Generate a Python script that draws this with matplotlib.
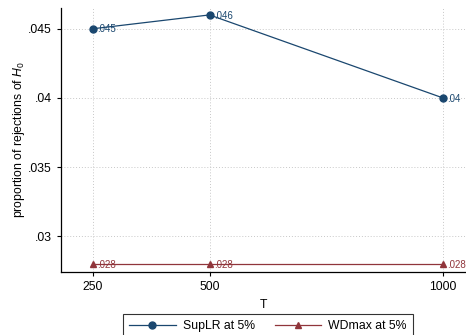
import matplotlib
matplotlib.use('Agg')
import matplotlib.pyplot as plt

T = [250, 500, 1000]
suplr = [0.045, 0.046, 0.04]
wdmax = [0.028, 0.028, 0.028]
suplr_labels = ['.045', '.046', '.04']
wdmax_labels = ['.028', '.028', '.028']
yticks = [0.03, 0.035, 0.04, 0.045]
ytick_labels = ['.03', '.035', '.04', '.045']

navy = '#1a476f'
maroon = '#90353b'

plt.rcParams['font.family'] = ['Liberation Sans', 'DejaVu Sans']
plt.rcParams['mathtext.fontset'] = 'custom'
plt.rcParams['mathtext.it'] = 'Liberation Sans:italic'
plt.rcParams['mathtext.rm'] = 'Liberation Sans'

fig = plt.figure(figsize=(4.66, 3.35), dpi=100)
ax = fig.add_axes([61 / 466, 1 - 272 / 335, (466 - 61) / 466, (272 - 8) / 335])

ax.plot(T, suplr, color=navy, lw=0.9, marker='o', ms=5, label='SupLR at 5%')
ax.plot(T, wdmax, color=maroon, lw=0.9, marker='^', ms=5, label='WDmax at 5%')
for x, y, s in zip(T, suplr, suplr_labels):
    ax.annotate(s, (x, y), xytext=(3, -0.5), textcoords='offset points',
                va='center', ha='left', fontsize=7, color=navy)
for x, y, s in zip(T, wdmax, wdmax_labels):
    ax.annotate(s, (x, y), xytext=(3, -0.5), textcoords='offset points',
                va='center', ha='left', fontsize=7, color=maroon)

ax.set_xlim(182, 1049)
ax.set_ylim(0.02743, 0.0465)
ax.set_xticks(T)
ax.set_xticklabels([str(t) for t in T])
ax.set_yticks(yticks)
ax.set_yticklabels(ytick_labels)
ax.tick_params(axis='both', labelsize=8.8, length=3, width=0.8, color='black')
ax.grid(True, linestyle=(0, (1, 2)), color='#c8c8c8', lw=0.7)
ax.set_axisbelow(True)
for side in ['top', 'right']:
    ax.spines[side].set_visible(False)
for side in ['left', 'bottom']:
    ax.spines[side].set_linewidth(0.9)

ax.set_xlabel('T', fontsize=8.8, labelpad=4)
ax.set_ylabel('proportion of rejections of $H_0$', fontsize=8.8, labelpad=1)

leg = fig.legend(loc='upper center', bbox_to_anchor=(268 / 466, 1 - 308 / 335),
                 ncol=2, fontsize=8.8, frameon=True, fancybox=False,
                 edgecolor='black', handlelength=3.8, handletextpad=0.6,
                 columnspacing=1.6, borderpad=0.5)
leg.get_frame().set_linewidth(0.8)

fig.savefig('out.png', dpi=100)
